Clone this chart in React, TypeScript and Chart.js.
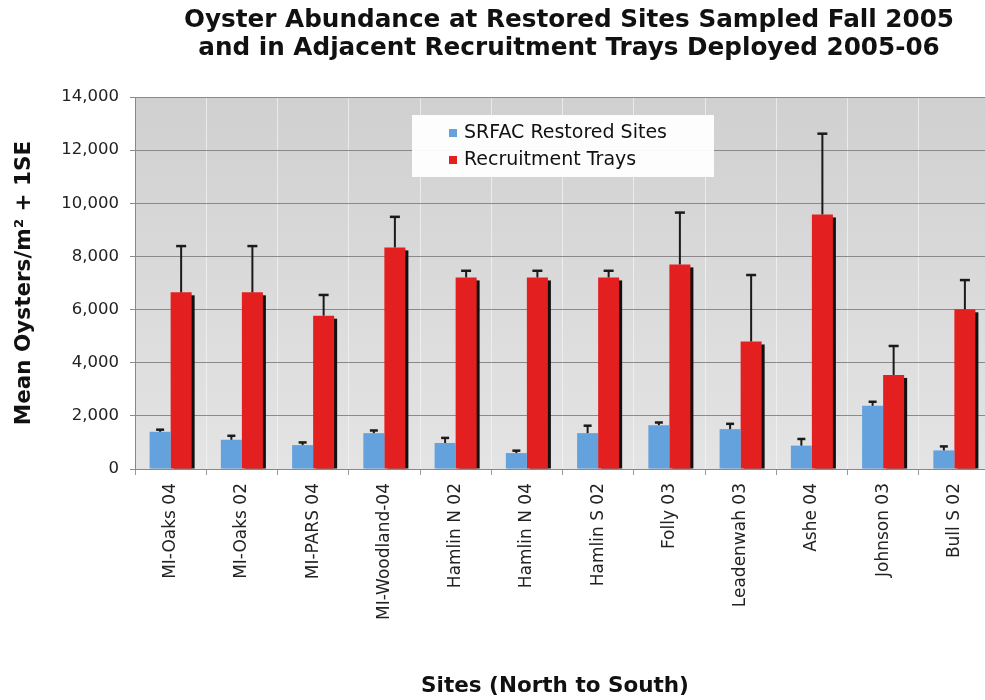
import React, { useEffect, useRef } from "react";
import { Chart, registerables } from "chart.js";

Chart.register(...registerables);

const sites = [
  "MI-Oaks 04", "MI-Oaks 02", "MI-PARS 04", "MI-Woodland-04", "Hamlin N 02", "Hamlin N 04",
  "Hamlin S 02", "Folly 03", "Leadenwah 03", "Ashe 04", "Johnson 03", "Bull S 02",
];
const restoredMeans = [1400, 1100, 900, 1350, 980, 600, 1350, 1650, 1500, 880, 2380, 700];
const restoredSE = [80, 150, 100, 100, 190, 90, 280, 100, 200, 250, 150, 150];
const trayMeans = [6650, 6650, 5770, 8340, 7210, 7210, 7210, 7700, 4800, 9580, 3540, 6010];
const traySE = [1740, 1740, 780, 1150, 250, 250, 250, 1950, 2500, 3040, 1090, 1100];
const yTicks = [0, 2000, 4000, 6000, 8000, 10000, 12000, 14000];
const titleLines = [
  "Oyster Abundance at Restored Sites Sampled Fall 2005",
  "and in Adjacent Recruitment Trays Deployed 2005-06",
];
const seriesNames = ["SRFAC Restored Sites", "Recruitment Trays"];
const seriesColors = ["#64a2de", "#e3201f"];
const errors = [restoredSE, traySE];

const FONT = "'DejaVu Sans', Verdana, sans-serif";

const decorPlugin = {
  id: "decor",
  beforeDraw(chart: any) {
    const { ctx, chartArea } = chart;
    const g = ctx.createLinearGradient(0, chartArea.top, 0, chartArea.bottom);
    g.addColorStop(0, "#d0d0d0");
    g.addColorStop(1, "#e4e4e4");
    ctx.save();
    ctx.fillStyle = g;
    ctx.fillRect(chartArea.left, chartArea.top, chartArea.right - chartArea.left, chartArea.bottom - chartArea.top);
    ctx.restore();
  },
  beforeDatasetsDraw(chart: any) {
    const { ctx } = chart;
    ctx.save();
    chart.data.datasets.forEach((ds: any, di: number) => {
      const meta = chart.getDatasetMeta(di);
      meta.data.forEach((bar: any) => {
        const w = bar.width;
        ctx.fillStyle = di === 1 ? "#111" : "rgba(90,110,140,0.35)";
        const off = di === 1 ? 3 : 2;
        ctx.fillRect(bar.x - w / 2 + off, bar.y + off, w, bar.base - bar.y - off);
      });
    });
    ctx.restore();
  },
  afterDatasetsDraw(chart: any) {
    const { ctx } = chart;
    const y = chart.scales.y;
    ctx.save();
    ctx.strokeStyle = "#1a1a1a";
    chart.data.datasets.forEach((ds: any, di: number) => {
      const meta = chart.getDatasetMeta(di);
      meta.data.forEach((bar: any, i: number) => {
        const top = y.getPixelForValue(ds.data[i] + errors[di][i]);
        ctx.lineWidth = 2;
        ctx.beginPath();
        ctx.moveTo(bar.x, bar.y);
        ctx.lineTo(bar.x, top);
        ctx.stroke();
        const cw = di === 1 ? 5 : 4;
        ctx.lineWidth = 2.5;
        ctx.beginPath();
        ctx.moveTo(bar.x - cw, top);
        ctx.lineTo(bar.x + cw, top);
        ctx.stroke();
      });
    });
    ctx.restore();
  },
  afterDraw(chart: any) {
    const { ctx } = chart;
    ctx.save();
    ctx.fillStyle = "#111";
    ctx.textAlign = "center";
    ctx.textBaseline = "middle";
    ctx.font = `bold 24.7px ${FONT}`;
    ctx.fillText(titleLines[0], 569, 21);
    ctx.fillText(titleLines[1], 569, 49);

    ctx.font = `bold 21.5px ${FONT}`;
    ctx.fillText("Sites (North to South)", 555, 686);
    ctx.save();
    ctx.translate(24, 283);
    ctx.rotate(-Math.PI / 2);
    ctx.fillText("Mean Oysters/m² + 1SE", 0, 0);
    ctx.restore();

    // legend
    ctx.fillStyle = "rgba(255,255,255,0.95)";
    ctx.fillRect(412, 115, 302, 62);
    ctx.font = `19px ${FONT}`;
    ctx.textAlign = "left";
    seriesNames.forEach((name, i) => {
      const cy = 133 + i * 27;
      ctx.fillStyle = seriesColors[i];
      ctx.fillRect(449, cy - 4, 8, 8);
      ctx.fillStyle = "#111";
      ctx.fillText(name, 464, cy);
    });
    ctx.restore();
  },
};

export default function App() {
  const ref = useRef<HTMLCanvasElement | null>(null);
  useEffect(() => {
    if (!ref.current) return;
    const chart = new Chart(ref.current, {
      type: "bar",
      data: {
        labels: sites,
        datasets: [
          { label: seriesNames[0], data: restoredMeans, backgroundColor: seriesColors[0] },
          { label: seriesNames[1], data: trayMeans, backgroundColor: seriesColors[1] },
        ],
      },
      options: {
        responsive: false,
        animation: false,
        devicePixelRatio: 1,
        layout: { padding: { top: 97, left: 0, right: 10, bottom: 0 } },
        datasets: { bar: { categoryPercentage: 0.59, barPercentage: 1 } },
        plugins: { legend: { display: false }, tooltip: { enabled: false }, title: { display: false } },
        scales: {
          x: {
            grid: { color: "rgba(245,245,245,0.7)", offset: true, tickLength: 6, tickColor: "#999" },
            border: { color: "#888" },
            ticks: {
              maxRotation: 90,
              minRotation: 90,
              color: "#222",
              font: { family: FONT, size: 17 },
              padding: 8,
            },
            afterFit: (s: any) => { s.height = 231; },
          },
          y: {
            min: 0,
            max: 14000,
            afterBuildTicks: (s: any) => { s.ticks = yTicks.map((v) => ({ value: v })); },
            grid: { color: "#8a8a8a", tickLength: 5, tickColor: "#8a8a8a" },
            border: { color: "#888" },
            ticks: {
              color: "#222",
              font: { family: FONT, size: 16.5 },
              padding: 11,
              callback: (v: any) => Number(v).toLocaleString("en-US"),
            },
            afterFit: (s: any) => { s.width = 135; },
          },
        },
      },
      plugins: [decorPlugin],
    });
    return () => chart.destroy();
  }, []);
  return (
    <div style={{ position: "fixed", left: 0, top: 0, width: 985, height: 700, overflow: "hidden", background: "#fff" }}>
      <canvas ref={ref} width={1000} height={700} style={{ width: 1000, height: 700, display: "block" }} />
    </div>
  );
}
